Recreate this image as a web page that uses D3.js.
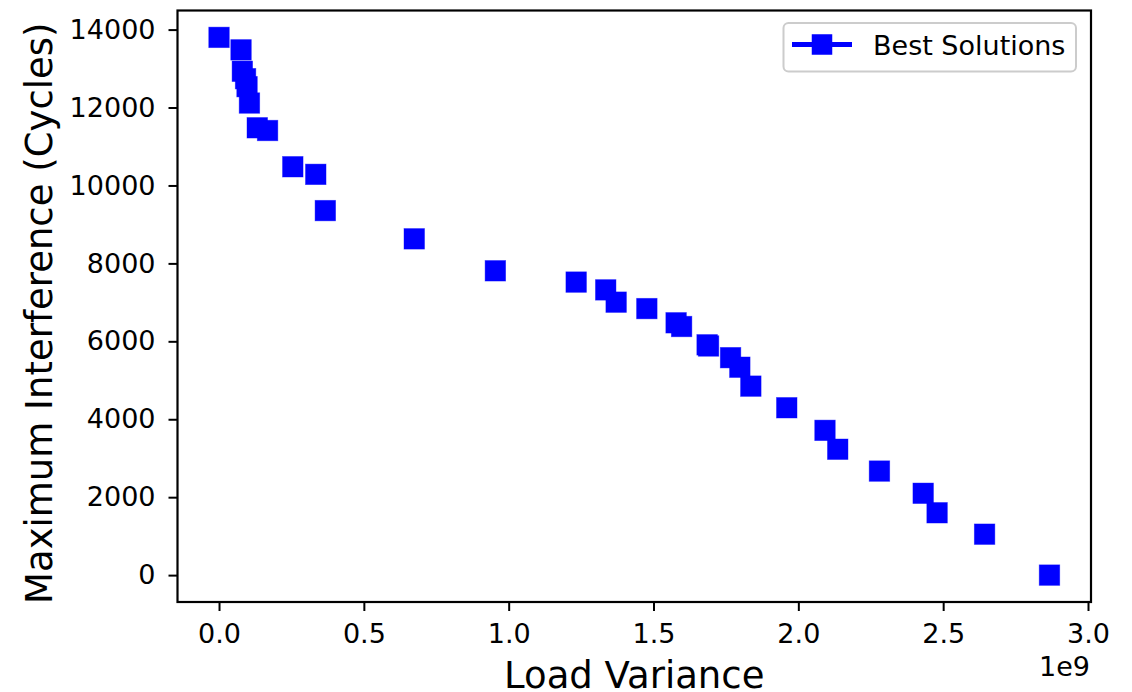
<!DOCTYPE html>
<html>
<head>
<meta charset="utf-8">
<script src="https://cdn.jsdelivr.net/npm/d3@7"></script>
<style>
  body { margin: 0; background: #fff; }
  svg text { font-family: "DejaVu Sans", sans-serif; fill: #000; }
</style>
</head>
<body>
<div id="visualization"></div>
<script>
// data (x in raw units, shown as 1e9 on the axis)
var loadVariance = [0, 0.076e9, 0.0805e9, 0.0916e9, 0.0967e9, 0.105e9, 0.132e9, 0.1676e9,
    0.2547e9, 0.334e9, 0.367e9, 0.674e9, 0.954e9, 1.233e9, 1.335e9, 1.371e9, 1.477e9,
    1.578e9, 1.597e9, 1.685e9, 1.690e9, 1.766e9, 1.798e9, 1.836e9, 1.960e9, 2.092e9,
    2.136e9, 2.280e9, 2.431e9, 2.479e9, 2.643e9, 2.867e9];
var maxInterference = [13800, 13480, 12930, 12740, 12535, 12115, 11480, 11410,
    10480, 10285, 9355, 8630, 7810, 7520, 7320, 7005, 6840,
    6475, 6380, 5910, 5880, 5580, 5335, 4850, 4295, 3715,
    3230, 2670, 2100, 1600, 1050, 0];
var xTicks = [0, 0.5e9, 1.0e9, 1.5e9, 2.0e9, 2.5e9, 3.0e9];
var yTicks = [0, 2000, 4000, 6000, 8000, 10000, 12000, 14000];
var seriesName = "Best Solutions";

var W = 1132, H = 692;
var plotLeft = 177.5, plotRight = 1091, plotTop = 10.5, plotBottom = 602;

var svg = d3.select("#visualization").append("svg")
    .attr("width", W)
    .attr("height", H);

var points = loadVariance.map((v, i) => ({ x: v, y: maxInterference[i] }));

// matplotlib style 5% margins
var xExt = d3.extent(loadVariance), yExt = d3.extent(maxInterference);
var xPad = (xExt[1] - xExt[0]) * 0.05, yPad = (yExt[1] - yExt[0]) * 0.05;

var x = d3.scaleLinear().domain([xExt[0] - xPad, xExt[1] + xPad]).range([plotLeft, plotRight]);
var y = d3.scaleLinear().domain([yExt[0] - yPad, yExt[1] + yPad]).range([plotBottom, plotTop]);

// axes
var xAxis = svg.append("g")
    .attr("transform", "translate(0," + plotBottom + ")")
    .call(d3.axisBottom(x).tickValues(xTicks).tickSize(9).tickPadding(13)
        .tickFormat(d => (d / 1e9).toFixed(1)));
var yAxis = svg.append("g")
    .attr("transform", "translate(" + plotLeft + ",0)")
    .call(d3.axisLeft(y).tickValues(yTicks).tickSize(9).tickPadding(13)
        .tickFormat(d3.format("d")));

[xAxis, yAxis].forEach(g => {
    g.select(".domain").remove();
    g.selectAll(".tick line").attr("stroke", "#000").attr("stroke-width", 2);
    g.selectAll(".tick text").attr("font-size", 27).attr("fill", "#000")
        .attr("font-family", "DejaVu Sans");
});

// markers
var ms = 20.5;
svg.append("g")
    .selectAll("rect")
    .data(points)
    .enter().append("rect")
    .attr("x", d => x(d.x) - ms / 2)
    .attr("y", d => y(d.y) - ms / 2)
    .attr("width", ms)
    .attr("height", ms)
    .attr("fill", "#0000ff")
    .attr("stroke", "#0000ff")
    .attr("stroke-opacity", 0.5)
    .attr("stroke-width", 0.8);

// frame
svg.append("rect")
    .attr("x", plotLeft).attr("y", plotTop)
    .attr("width", plotRight - plotLeft).attr("height", plotBottom - plotTop)
    .attr("fill", "none").attr("stroke", "#000").attr("stroke-width", 2.2);

// axis labels
svg.append("text")
    .attr("x", (plotLeft + plotRight) / 2).attr("y", 688)
    .attr("text-anchor", "middle").attr("font-size", 37)
    .text("Load Variance");

svg.append("text")
    .attr("transform", "translate(52," + ((plotTop + plotBottom) / 2 + 7) + ") rotate(-90)")
    .attr("text-anchor", "middle").attr("font-size", 37)
    .text("Maximum Interference (Cycles)");

// offset text
svg.append("text")
    .attr("x", plotRight - 1).attr("y", 676)
    .attr("text-anchor", "end").attr("font-size", 27)
    .text("1e9");

// legend
var lg = svg.append("g");
lg.append("rect")
    .attr("x", 783.5).attr("y", 23).attr("width", 292.5).attr("height", 48.5)
    .attr("rx", 5).attr("fill", "#fff").attr("fill-opacity", 0.8)
    .attr("stroke", "#cccccc").attr("stroke-width", 2);
lg.append("line")
    .attr("x1", 792).attr("x2", 852).attr("y1", 44.5).attr("y2", 44.5)
    .attr("stroke", "#0000ff").attr("stroke-width", 5);
lg.append("rect")
    .attr("x", 822 - ms / 2).attr("y", 44.5 - ms / 2).attr("width", ms).attr("height", ms)
    .attr("fill", "#0000ff");
lg.append("text")
    .attr("x", 873).attr("y", 54.5).attr("font-size", 27)
    .text(seriesName);
</script>
</body>
</html>
